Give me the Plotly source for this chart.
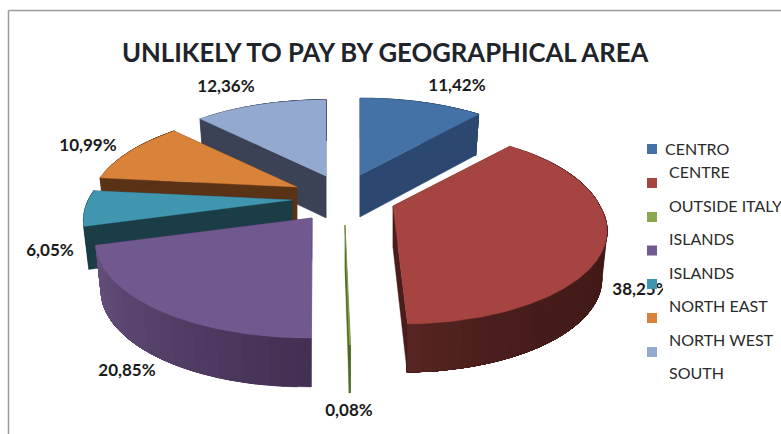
import numpy as np
import plotly.graph_objects as go

# ---- data ----
categories = ["CENTRO", "CENTRE", "OUTSIDE ITALY", "ISLANDS", "ISLANDS ", "NORTH EAST", "NORTH WEST"]
values = [11.42, 38.25, 0.08, 20.85, 6.05, 10.99, 12.36]
legend_labels = ["CENTRO", "CENTRE", "OUTSIDE ITALY", "ISLANDS", "ISLANDS", "NORTH EAST", "NORTH WEST", "SOUTH"]
title_text = "UNLIKELY TO PAY BY GEOGRAPHICAL AREA"

# ---- style ----
top_colors = ["#4471a6", "#a54441", "#8aa64f", "#71588f", "#3f96ae", "#d8823a", "#93a9cf"]
face_colors = ["#2c4870", "#4a1c1a", "#4d6a20", "#43304f", "#1b3d47", "#5a3216", "#3b4256"]
wall_near = ["#2c4870", "#572523", "#4d6a20", "#432f52", "#1b3d47", "#5a3216", "#3b4256"]
wall_far = ["#2c4870", "#421a18", "#4d6a20", "#67517f", "#1b3d47", "#5a3216", "#3b4256"]
apex = [(360, 175), (393, 206), (345, 225), (312, 218), (292, 200), (297, 187), (326, 176)]
radius_scale = [1.0, 0.985, 1.0, 1.0, 0.97, 0.965, 0.99]
depth = [41, 48, 48, 49, 43, 42, 41]
shear = [0, 9, 0, -5, 0, 0, 0]
draw_order = [6, 0, 5, 4, 1, 3, 2]
label_pos = [(457, 87), (641, 291), (349, 412), (127, 372), (50, 252), (88, 147), (226, 88)]
marker_y = [149, 183, 217, 250.5, 284, 318, 352]
legend_text_pos = [(663, 148), (667, 171), (667, 205), (667, 238), (667, 272), (667, 305), (667, 339), (667, 372)]

RX, RY, K = 210.0, 93.8, 0.218
APEX_DEPTH, BOTTOM_SCALE = 42.0, 0.975


def hex_mix(a, b, t):
    ca = [int(a[i:i + 2], 16) for i in (1, 3, 5)]
    cb = [int(b[i:i + 2], 16) for i in (1, 3, 5)]
    return "rgb(%d,%d,%d)" % tuple(round(p + (q - p) * t) for p, q in zip(ca, cb))


def rim(angles, i, lower=False):
    u, v = np.sin(angles), -np.cos(angles)
    w = 1 - K * v
    r = radius_scale[i]
    x, y = r * RX * u / w + shear[i] * np.clip(v, 0, 1), r * RY * v / w
    if lower:
        x = x * BOTTOM_SCALE
        y = y + depth[i]
    return apex[i][0] + x, apex[i][1] + y


def poly(fig, x, y, color, name=None):
    fig.add_trace(go.Scatter(x=list(x) + [x[0]], y=list(y) + [y[0]], mode="lines", fill="toself",
                             fillcolor=color, line=dict(width=0.4, color=color), showlegend=False,
                             hoverinfo="text" if name else "skip", text=name))


edges = np.deg2rad(np.concatenate([[0], np.cumsum(values)]) * 3.6)
fig = go.Figure()

for i in draw_order:
    a0, a1 = edges[i], edges[i + 1]
    c = apex[i]
    # cut faces
    for a in (a0, a1):
        ex, ey = rim(np.array([a]), i)
        bx, by = rim(np.array([a]), i, True)
        poly(fig, [c[0], ex[0], bx[0], c[0]], [c[1], ey[0], by[0], c[1] + APEX_DEPTH], face_colors[i])
    # outer wall, shaded along the arc; each band overlaps the next so no seams show
    n = max(int((a1 - a0) / np.deg2rad(3)), 1)
    st = np.linspace(a0, a1, n + 1)
    for k in range(n):
        seg = np.linspace(st[k], a1, 60)
        tx, ty = rim(seg, i)
        bx, by = rim(seg, i, True)
        t = (k + 0.5) / n
        if i == 1:
            col = hex_mix(wall_far[i], wall_near[i], t ** 6)
        elif i == 3:
            col = hex_mix(wall_near[i], wall_far[i], t)
        else:
            col = wall_far[i]
        poly(fig, np.r_[tx, bx[::-1]], np.r_[ty, by[::-1]], col)
    # top surface
    arc = np.linspace(a0, a1, max(n * 4, 8))
    tx, ty = rim(arc, i)
    poly(fig, np.r_[c[0], tx], np.r_[c[1], ty], top_colors[i], categories[i])

# data labels
fig.add_trace(go.Scatter(
    x=[p[0] for p in label_pos], y=[p[1] for p in label_pos], mode="text",
    text=[f"{v:.2f}".replace(".", ",") + "%" for v in values],
    textposition="middle center",
    textfont=dict(family="Lato", size=17, color="#1a1a1a", weight="bold"),
    showlegend=False, hoverinfo="skip"))

# legend keys
fig.add_trace(go.Scatter(
    x=[652] * len(marker_y), y=marker_y, mode="markers",
    marker=dict(symbol="square", size=10, color=top_colors),
    showlegend=False, hoverinfo="skip"))

for txt, (x, y) in zip(legend_labels, legend_text_pos):
    fig.add_annotation(x=x, y=y, text=txt, showarrow=False, xanchor="left", yanchor="middle",
                       font=dict(family="Lato", size=16, color="#2a2a2a"))

fig.add_annotation(x=385, y=52, text=title_text, showarrow=False, xanchor="center", yanchor="middle",
                   font=dict(family="Lato", size=25.7, color="#20242a", weight="bold"))

shapes = [
    dict(type="rect", x0=663, x1=781, y0=280, y1=302, fillcolor="white", line_width=0, layer="above"),
    dict(type="line", x0=8.5, x1=8.5, y0=10.5, y1=434, line=dict(color="#9a9a9a", width=1.5), layer="above"),
    dict(type="line", x0=8.5, x1=781, y0=10.5, y1=10.5, line=dict(color="#9a9a9a", width=1.5), layer="above"),
]

fig.update_layout(
    width=781, height=434, margin=dict(l=0, r=0, t=0, b=0),
    paper_bgcolor="white", plot_bgcolor="white", shapes=shapes, showlegend=False,
    xaxis=dict(range=[0, 781], visible=False, fixedrange=True),
    yaxis=dict(range=[434, 0], visible=False, fixedrange=True),
)
fig.write_html("out.html", config=dict(displayModeBar=False),
               post_script="document.body.style.margin='0';document.body.style.overflow='hidden';")
